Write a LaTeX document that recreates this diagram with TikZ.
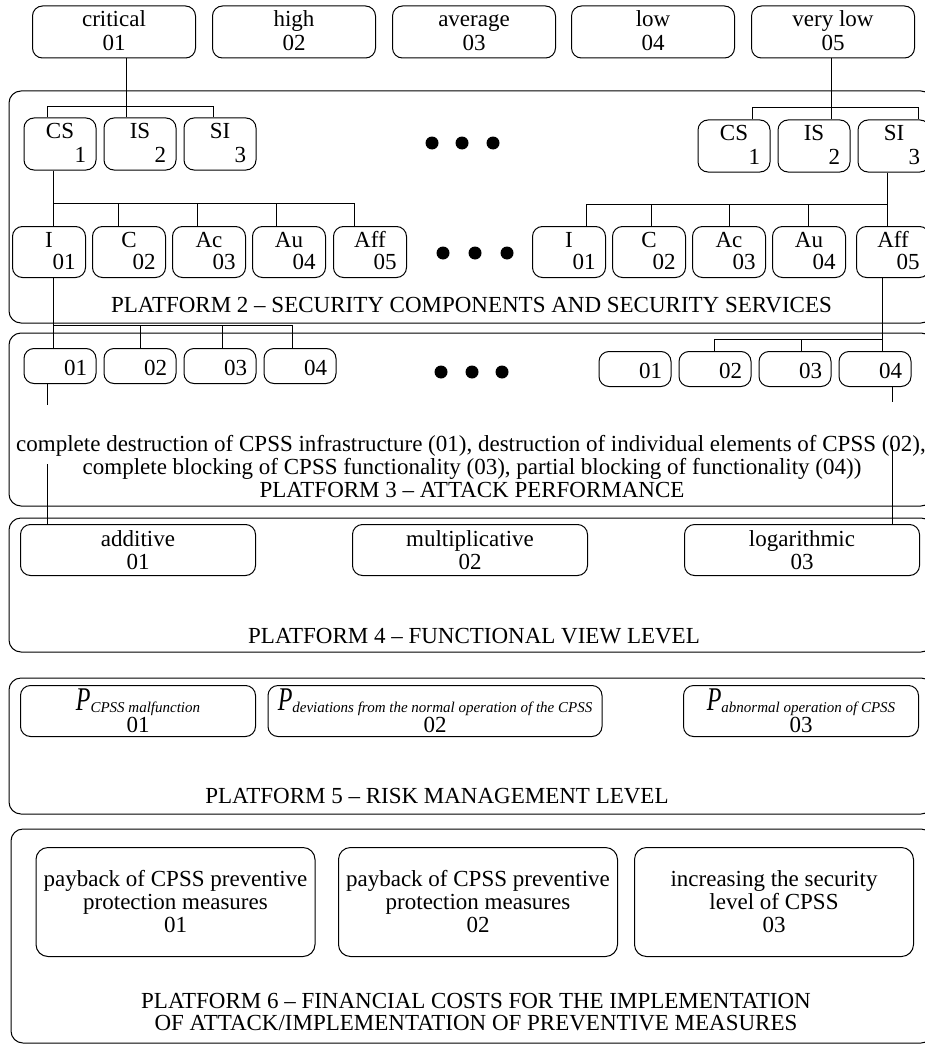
\documentclass[tikz,border=0pt]{standalone}
\usepackage{fontspec}
\setmainfont{Liberation Serif}
\usepackage{graphicx}
\usetikzlibrary{positioning}

\newcommand\subtxt[1]{{\fontsize{15}{15}\selectfont\itshape #1}}
\newcommand\bigP{\scalebox{1}[1.38]{\fontsize{24}{24}\selectfont\itshape P}}

\begin{document}
\begin{tikzpicture}[
    x=1pt, y=-1pt, line width=1pt,
    every node/.style={font=\fontsize{23}{23}\selectfont, inner sep=0pt},
    frame/.style={draw, rounded corners=12pt},
    lvl/.style={draw, rounded corners=10pt, minimum width=163pt, minimum height=52pt},
    svc/.style={draw, rounded corners=10pt, minimum width=72pt, minimum height=52pt},
    prop/.style={draw, rounded corners=10pt, minimum width=73pt, minimum height=51pt},
    perf/.style={draw, rounded corners=10pt, minimum width=72pt, minimum height=35pt},
    wide/.style={draw, rounded corners=10pt, minimum width=235pt, minimum height=51pt, align=center},
    cost/.style={draw, rounded corners=12pt, minimum width=279pt, minimum height=109pt, align=center},
    dot/.style={fill=black}
]
    \clip (0,0) rectangle (925,1046);

    % Platforms
    \draw[frame] (9,91) rectangle (933,323);
    \draw[frame] (9,333) rectangle (933,506);
    \draw[frame] (9,518) rectangle (933,652);
    \draw[frame] (9,678) rectangle (933,814);
    \draw[frame] (11,829) rectangle (933,1043);

    % Level of threat
    \foreach \nm/\xx/\lb/\nr in {crit/114/critical/01, high/294/high/02, avg/474/average/03,
                                low/653/low/04, vlow/833/very low/05}{
        \node[lvl] (\nm) at (\xx,32) {};
        \node[anchor=base] (\nm-l) at ([yshift=-21pt]\nm.north) {\lb};
        \node[anchor=base] (\nm-n) at ([yshift=8pt]\nm.south) {\nr};
    }

    % Platform 2: components
    \foreach \nm/\xx/\yy/\lb/\nr in {csa/60/144/CS/1, isa/140/144/IS/2, sia/220/144/SI/3,
                                    csb/734/146/CS/1, isb/814/146/IS/2, sib/894/146/SI/3}{
        \node[svc] (\nm) at (\xx,\yy) {};
        \node[anchor=base] (\nm-l) at ([yshift=-21pt]\nm.north) {\lb};
        \node[anchor=base east] (\nm-n) at ([xshift=-10pt, yshift=8pt]\nm.south east) {\nr};
    }
    % Platform 2: services
    \foreach \nm/\xx/\lb/\nr in {ia/49/I/01, ca/129/C/02, aca/209/Ac/03, aua/289/Au/04, affa/370/Aff/05,
                                ib/569/I/01, cb/649/C/02, acb/729/Ac/03, aub/809/Au/04, affb/893/Aff/05}{
        \node[prop] (\nm) at (\xx,252) {};
        \node[anchor=base] (\nm-l) at ([yshift=-21pt]\nm.north) {\lb};
        \node[anchor=base east] (\nm-n) at ([xshift=-10pt, yshift=9pt]\nm.south east) {\nr};
    }
    \node (t2) at (471.5,312) [anchor=base] {PLATFORM 2 -- SECURITY COMPONENTS AND SECURITY SERVICES};

    % Platform 3: attack performance
    \foreach \nm/\xx/\yy/\nr in {ta1/60/366/01, ta2/140/366/02, ta3/220/366/03, ta4/300/366/04,
                                tb1/635/369/01, tb2/715/369/02, tb3/795/369/03, tb4/875/369/04}{
        \node[perf] (\nm) at (\xx,\yy) {};
        \node[anchor=base east] (\nm-n) at ([xshift=-9pt, yshift=9pt]\nm.south east) {\nr};
    }
    \node[anchor=base] (t3a) at (471,451) {complete destruction of CPSS infrastructure (01), destruction of individual elements of CPSS (02),};
    \node[anchor=base] (t3b) at (472,474) {complete blocking of CPSS functionality (03), partial blocking of functionality (04))};
    \node[anchor=base] (t3c) at (472,497) {PLATFORM 3 -- ATTACK PERFORMANCE};

    % Platform 4
    \node[wide] (add) at (138,550) {additive\\01};
    \node[wide] (mul) at (470,550) {multiplicative\\02};
    \node[wide] (log) at (802,550) {logarithmic\\03};
    \node[anchor=base] (t4) at (474,643) {PLATFORM 4 -- FUNCTIONAL VIEW LEVEL};

    % Platform 5
    \node[wide] (pa) at (138,711) {};
    \node[wide, minimum width=334pt] (pb) at (435,711) {};
    \node[wide] (pc) at (801,711) {};
    \foreach \nm/\sb/\nr in {pa/CPSS malfunction/01, pb/deviations from the normal operation of the CPSS/02,
                             pc/abnormal operation of CPSS/03}{
        \node[anchor=base] (\nm-l) at ([yshift=-25pt]\nm.north) {\bigP\raisebox{-2pt}{\subtxt{\sb}}};
        \node[anchor=base] (\nm-n) at ([yshift=5pt]\nm.south) {\nr};
    }
    \node[anchor=base] (t5) at (437,803) {PLATFORM 5 -- RISK MANAGEMENT LEVEL};

    % Platform 6
    \node[cost] (fa) at (175.5,902) {payback of CPSS preventive\\protection measures\\01};
    \node[cost] (fb) at (478,902) {payback of CPSS preventive\\protection measures\\02};
    \node[cost] (fc) at (774,902) {increasing the security\\level of CPSS\\03};
    \node[anchor=base] (t6a) at (476,1008) {PLATFORM 6 -- FINANCIAL COSTS FOR THE IMPLEMENTATION};
    \node[anchor=base] (t6b) at (476,1030) {OF ATTACK/IMPLEMENTATION OF PREVENTIVE MEASURES};

    % Dots
    \foreach \xx in {432,462,493} \fill[dot] (\xx,143) circle (6.5);
    \foreach \xx in {443,475,507} \fill[dot] (\xx,253) circle (6.5);
    \foreach \xx in {441,472,502} \fill[dot] (\xx,372) circle (6.5);

    % Links: level -> components
    \draw ([xshift=12pt]crit.south) -- ([xshift=12pt]crit.south |- isa.north);
    \draw ([xshift=-13pt]csa.north) |- ([xshift=-7pt, yshift=11pt]sia.north) -- ([xshift=-7pt]sia.north);
    \draw ([xshift=-2pt]vlow.south) -- ([xshift=-2pt]vlow.south |- isb.north);
    \draw ([xshift=18pt]csb.north) |- ([xshift=24pt, yshift=12pt]sib.north) -- ([xshift=24pt]sib.north);

    % Links: components -> services
    \coordinate (b2l) at (53,203);
    \coordinate (b2r) at (887,204);
    \draw ([xshift=-7pt]csa.south) -- ([xshift=4pt]ia.north);
    \draw (b2l) -| ([xshift=-16pt]affa.north);
    \foreach \nm/\dx in {ca/-11, aca/-12, aua/-13}
        \draw ([xshift=\dx pt]\nm.north) -- ([xshift=\dx pt]\nm.north |- b2l);
    \draw ([xshift=-7pt]sib.south) -- ([xshift=-6pt]affb.north);
    \draw ([xshift=17pt]ib.north) |- (b2r);
    \foreach \nm/\dx in {cb/2, acb/0, aub/-1}
        \draw ([xshift=\dx pt]\nm.north) -- ([xshift=\dx pt]\nm.north |- b2r);

    % Links: services -> attack performance
    \coordinate (b3l) at (53,325);
    \coordinate (b3r) at (882,339);
    \draw ([xshift=4pt]ia.south) -- ([xshift=-7pt]ta1.north);
    \draw (b3l) -| ([xshift=-8pt]ta4.north);
    \foreach \nm/\dx in {ta2/0, ta3/2}
        \draw ([xshift=\dx pt]\nm.north) -- ([xshift=\dx pt]\nm.north |- b3l);
    \draw ([xshift=-11pt]affb.south) -- ([xshift=7pt]tb4.north);
    \draw ([xshift=-1pt]tb2.north) |- (b3r);
    \draw ([xshift=6pt]tb3.north) -- ([xshift=6pt]tb3.north |- b3r);

    % Links: attack performance -> functional view
    \coordinate (ga1) at (47,405);
    \coordinate (ga2) at (47,464);
    \coordinate (gb1) at (892,402);
    \coordinate (gb2) at (892,445);
    \draw ([xshift=-13pt]ta1.south) -- (ga1);
    \draw (ga2) -- (ga2 |- add.north);
    \draw ([xshift=17pt]tb4.south) -- (gb1);
    \draw (gb2) -- (gb2 |- log.north);
\end{tikzpicture}
\end{document}
